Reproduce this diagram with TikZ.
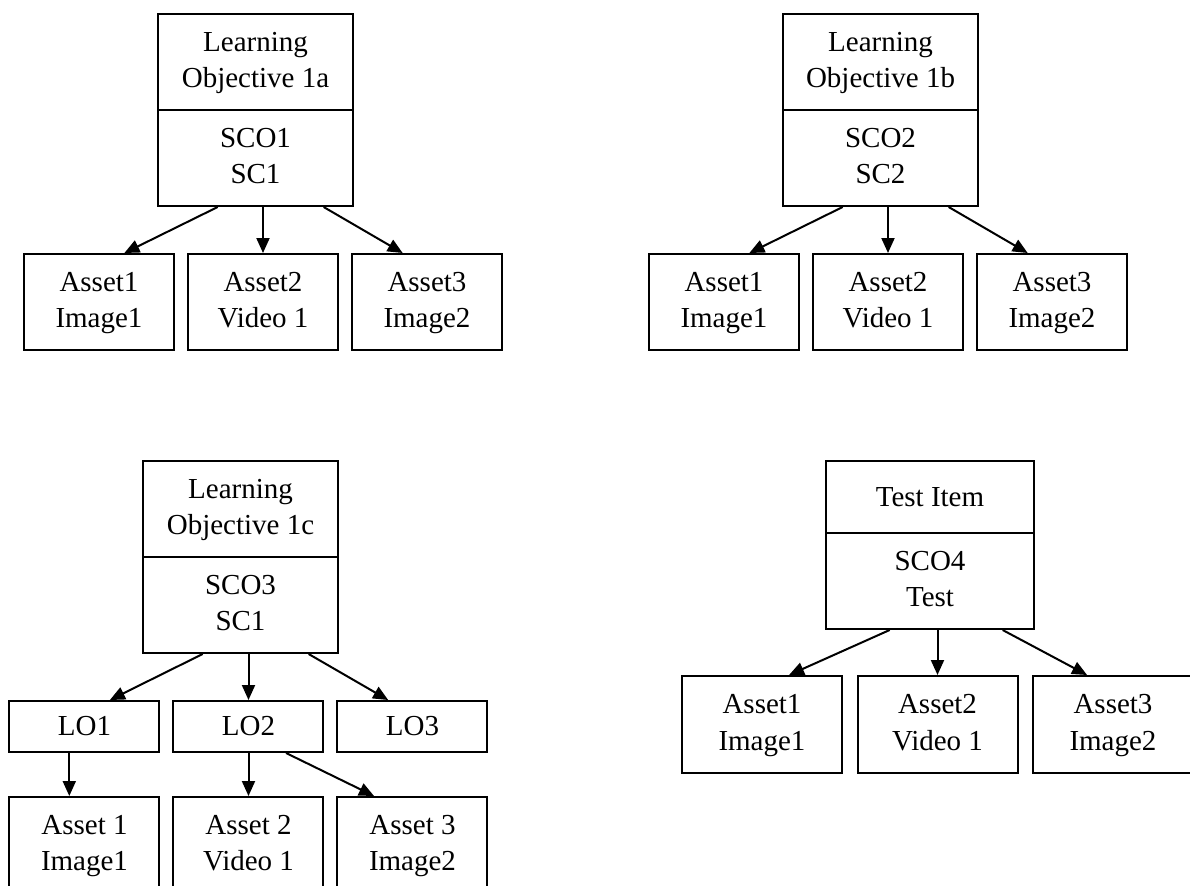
\documentclass[tikz,border=0pt]{standalone}
\usepackage{fontspec}
\setmainfont{Liberation Serif}
\usetikzlibrary{arrows.meta,calc,matrix,positioning}
\newcommand{\twoline}[2]{\begin{tabular}{@{}c@{}}#1\\#2\end{tabular}}
\tikzset{
	arr/.style={-{Triangle[width=6.5pt,length=7.5pt]}, line width=1pt}
}

\begin{document}
\begin{tikzpicture}[x=0.5pt,y=-0.5pt,line width=1pt]
			\tikzset{every matrix/.style={
				inner sep=-0.5\pgflinewidth,
				matrix of nodes,
				column sep=6pt,
				row sep=-\pgflinewidth,
				nodes={
					draw,
					font=\fontsize{14.5pt}{18.3pt}\selectfont,
					minimum width=75pt,
					minimum height=48pt,
					inner sep=0pt,
					anchor=center
				},
				ampersand replacement=\&
			}}
			\clip (0,0) rectangle (1190,885);
			% Learning Objective 1a
			\matrix[below,column 1/.style={nodes={minimum width=97.5pt}}] (t1) at (255.5,13) {\twoline{Learning}{Objective 1a}\\ \twoline{SCO1}{SC1}\\};
			\matrix[below] (a1) at (263,253) {\twoline{Asset1}{Image1} \& \twoline{Asset2}{Video 1} \& \twoline{Asset3}{Image2}\\};
			% Learning Objective 1b
			\matrix[below,column 1/.style={nodes={minimum width=97.5pt}}] (t2) at (880.5,13) {\twoline{Learning}{Objective 1b}\\ \twoline{SCO2}{SC2}\\};
			\matrix[below] (a2) at (888,253) {\twoline{Asset1}{Image1} \& \twoline{Asset2}{Video 1} \& \twoline{Asset3}{Image2}\\};
			% Learning Objective 1c
			\matrix[below,column 1/.style={nodes={minimum width=97.5pt}}] (t3) at (240.5,460) {\twoline{Learning}{Objective 1c}\\ \twoline{SCO3}{SC1}\\};
			\matrix[below,row 1/.style={nodes={minimum height=25.5pt}}] (l3) at (248.5,700) {LO1 \& LO2 \& LO3\\};
			\matrix[below] (b3) at (248.5,796) {\twoline{Asset 1}{Image1} \& \twoline{Asset 2}{Video 1} \& \twoline{Asset 3}{Image2}\\};
			% Test Item
			\matrix[below,column 1/.style={nodes={minimum width=104pt}},row 1/.style={nodes={minimum height=36pt}}] (t4) at (930,460) {Test Item\\ \twoline{SCO4}{Test}\\};
			\matrix[below,row 1/.style={nodes={minimum width=80pt,minimum height=48.5pt}}] (a4) at (937.5,675) {\twoline{Asset1}{Image1} \&[0.75pt] \twoline{Asset2}{Video 1} \&[0.75pt] \twoline{Asset3}{Image2}\\};
			\foreach \t/\a in {t1/a1,t2/a2,t3/l3,t4/a4}{
				\draw[arr] ($(\t-2-1.south west)!.308!(\t-2-1.south east)$) -- ($(\a-1-1.north west)!.667!(\a-1-1.north east)$);
				\draw[arr] (\t-2-1.south -| \a-1-2.north) -- (\a-1-2.north);
				\draw[arr] ($(\t-2-1.south west)!.846!(\t-2-1.south east)$) -- ($(\a-1-3.north west)!.34!(\a-1-3.north east)$);
			}
			\draw[arr] ($(l3-1-1.south west)!.4!(l3-1-1.south east)$) coordinate (p) -- (p |- b3-1-1.north);
			\draw[arr] (l3-1-2.south) -- (b3-1-2.north);
			\draw[arr] ($(l3-1-2.south west)!.747!(l3-1-2.south east)$) -- ($(b3-1-3.north west)!.247!(b3-1-3.north east)$);
		\end{tikzpicture}
\end{document}
